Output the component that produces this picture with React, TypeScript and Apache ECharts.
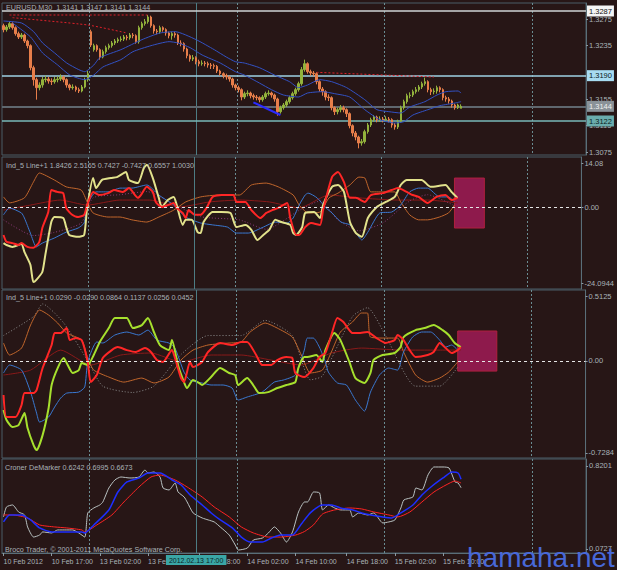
import React, { useEffect, useRef } from "react";
import * as echarts from "echarts";

const W = 617;
const H = 570;
const N_SLOTS = 194;

// [open, close, low, high]
const CANDLES: number[][] = [
  [1.3265,1.3259,1.3255,1.3268],[1.3259,1.3263,1.3256,1.3266],[1.3263,1.3268,1.3260,1.3271],[1.3268,1.3262,1.3259,1.3270],
  [1.3262,1.3253,1.3250,1.3264],[1.3253,1.3248,1.3245,1.3256],[1.3248,1.3251,1.3245,1.3254],[1.3251,1.3242,1.3239,1.3253],
  [1.3242,1.3235,1.3231,1.3244],[1.3235,1.3202,1.3198,1.3237],[1.3202,1.3184,1.3175,1.3205],[1.3184,1.3172,1.3154,1.3187],
  [1.3172,1.3176,1.3168,1.3180],[1.3176,1.3184,1.3172,1.3188],[1.3184,1.3185,1.3180,1.3190],[1.3185,1.3182,1.3178,1.3188],
  [1.3182,1.3181,1.3176,1.3186],[1.3181,1.3184,1.3178,1.3188],[1.3184,1.3185,1.3180,1.3189],[1.3185,1.3188,1.3182,1.3192],
  [1.3188,1.3184,1.3180,1.3190],[1.3184,1.3176,1.3172,1.3186],[1.3176,1.3172,1.3168,1.3178],[1.3172,1.3173,1.3169,1.3177],
  [1.3173,1.3169,1.3166,1.3175],[1.3169,1.3167,1.3164,1.3172],[1.3167,1.3173,1.3165,1.3176],[1.3173,1.3184,1.3171,1.3187],
  [1.3184,1.3193,1.3181,1.3197],[1.3256,1.3236,1.3233,1.3259],[1.3229,1.3235,1.3226,1.3238],[1.3235,1.3229,1.3226,1.3237],
  [1.3229,1.3218,1.3214,1.3231],[1.3218,1.3226,1.3216,1.3229],[1.3226,1.3232,1.3223,1.3235],[1.3232,1.3235,1.3229,1.3238],
  [1.3235,1.3239,1.3232,1.3242],[1.3239,1.3242,1.3236,1.3245],[1.3242,1.3244,1.3239,1.3247],[1.3244,1.3245,1.3241,1.3249],
  [1.3245,1.3248,1.3242,1.3251],[1.3248,1.3247,1.3243,1.3251],[1.3247,1.3251,1.3244,1.3254],[1.3251,1.3250,1.3246,1.3254],
  [1.3250,1.3241,1.3238,1.3252],[1.3241,1.3262,1.3238,1.3265],[1.3262,1.3268,1.3259,1.3271],[1.3268,1.3271,1.3265,1.3275],
  [1.3271,1.3278,1.3268,1.3281],[1.3278,1.3265,1.3262,1.3280],[1.3265,1.3257,1.3253,1.3267],[1.3257,1.3256,1.3252,1.3260],
  [1.3256,1.3262,1.3253,1.3265],[1.3262,1.3259,1.3256,1.3264],[1.3259,1.3254,1.3250,1.3261],[1.3254,1.3250,1.3246,1.3256],
  [1.3250,1.3253,1.3244,1.3256],[1.3253,1.3251,1.3247,1.3256],[1.3251,1.3239,1.3236,1.3253],[1.3239,1.3238,1.3234,1.3243],
  [1.3238,1.3230,1.3226,1.3240],[1.3230,1.3220,1.3216,1.3232],[1.3220,1.3215,1.3211,1.3222],[1.3215,1.3217,1.3212,1.3221],
  [1.3217,1.3211,1.3207,1.3219],[1.3211,1.3208,1.3204,1.3214],[1.3208,1.3209,1.3205,1.3213],[1.3209,1.3208,1.3204,1.3212],
  [1.3208,1.3206,1.3202,1.3211],[1.3206,1.3205,1.3200,1.3209],[1.3205,1.3204,1.3200,1.3208],[1.3204,1.3197,1.3194,1.3206],
  [1.3197,1.3193,1.3190,1.3199],[1.3193,1.3190,1.3186,1.3195],[1.3190,1.3188,1.3184,1.3193],[1.3188,1.3185,1.3181,1.3190],
  [1.3185,1.3176,1.3172,1.3187],[1.3176,1.3172,1.3168,1.3178],[1.3172,1.3169,1.3165,1.3175],[1.3169,1.3158,1.3153,1.3171],
  [1.3158,1.3163,1.3155,1.3166],[1.3163,1.3164,1.3159,1.3168],[1.3164,1.3160,1.3156,1.3166],[1.3160,1.3158,1.3154,1.3163],
  [1.3158,1.3157,1.3153,1.3161],[1.3157,1.3154,1.3150,1.3159],[1.3154,1.3158,1.3151,1.3161],[1.3158,1.3163,1.3155,1.3166],
  [1.3163,1.3164,1.3160,1.3168],[1.3164,1.3161,1.3157,1.3166],[1.3161,1.3155,1.3151,1.3163],[1.3155,1.3136,1.3130,1.3157],
  [1.3136,1.3142,1.3133,1.3145],[1.3142,1.3146,1.3139,1.3149],[1.3146,1.3151,1.3143,1.3154],[1.3151,1.3157,1.3148,1.3160],
  [1.3157,1.3163,1.3154,1.3166],[1.3163,1.3169,1.3160,1.3172],[1.3169,1.3178,1.3166,1.3181],[1.3178,1.3199,1.3175,1.3203],
  [1.3199,1.3208,1.3196,1.3214],[1.3208,1.3196,1.3193,1.3210],[1.3196,1.3194,1.3190,1.3199],[1.3194,1.3193,1.3189,1.3197],
  [1.3193,1.3181,1.3177,1.3195],[1.3181,1.3170,1.3166,1.3183],[1.3170,1.3166,1.3160,1.3173],[1.3166,1.3158,1.3153,1.3168],
  [1.3158,1.3157,1.3152,1.3162],[1.3157,1.3142,1.3138,1.3159],[1.3142,1.3136,1.3131,1.3144],[1.3136,1.3139,1.3132,1.3142],
  [1.3139,1.3142,1.3135,1.3146],[1.3142,1.3139,1.3135,1.3145],[1.3139,1.3133,1.3128,1.3141],[1.3133,1.3115,1.3111,1.3135],
  [1.3115,1.3104,1.3099,1.3117],[1.3104,1.3098,1.3093,1.3107],[1.3098,1.3089,1.3081,1.3100],[1.3089,1.3091,1.3085,1.3095],
  [1.3091,1.3106,1.3088,1.3109],[1.3106,1.3116,1.3103,1.3119],[1.3116,1.3124,1.3113,1.3127],[1.3124,1.3128,1.3121,1.3131],
  [1.3128,1.3124,1.3120,1.3130],[1.3124,1.3125,1.3121,1.3129],[1.3125,1.3124,1.3120,1.3128],[1.3124,1.3125,1.3121,1.3129],
  [1.3125,1.3124,1.3120,1.3128],[1.3124,1.3116,1.3112,1.3126],[1.3116,1.3113,1.3109,1.3119],[1.3113,1.3121,1.3110,1.3124],
  [1.3121,1.3142,1.3119,1.3145],[1.3142,1.3151,1.3139,1.3154],[1.3151,1.3160,1.3148,1.3163],[1.3160,1.3161,1.3156,1.3165],
  [1.3161,1.3166,1.3158,1.3169],[1.3166,1.3169,1.3163,1.3173],[1.3169,1.3173,1.3166,1.3176],[1.3173,1.3178,1.3170,1.3181],
  [1.3178,1.3181,1.3175,1.3187],[1.3181,1.3169,1.3165,1.3183],[1.3169,1.3166,1.3161,1.3172],[1.3166,1.3167,1.3162,1.3171],
  [1.3167,1.3172,1.3163,1.3175],[1.3172,1.3169,1.3165,1.3174],[1.3169,1.3157,1.3153,1.3171],[1.3157,1.3155,1.3151,1.3160],
  [1.3155,1.3152,1.3148,1.3158],[1.3152,1.3146,1.3142,1.3154],[1.3146,1.3142,1.3139,1.3148],[1.3142,1.3146,1.3140,1.3148],
  [1.3141,1.3144,1.3141,1.3147],
];

// moving averages on the price pane: [bar index, price]
const MA_FAST = [[0,1.3272],[6,1.3269],[10,1.3256],[13,1.3239],[17,1.3224],[21,1.3209],[25,1.3199],[27,1.3196],[30,1.3206],[32,1.3217],[39,1.3229],[46,1.3244],[52,1.3254],[57,1.3256],[64,1.3244],[70,1.3229],[74,1.3218],[77,1.3211],[80,1.3209],[85,1.3202],[90,1.3191],[95,1.3181],[98,1.3172],[101,1.3176],[105,1.3184],[109,1.3181],[114,1.3172],[120,1.3154],[124,1.3139],[128,1.3136],[132,1.3134],[135,1.3143],[140,1.3151],[144,1.3161],[147,1.3166],[151,1.3167],[152,1.3164]];
const MA_SLOW = [[3,1.3269],[9,1.3248],[13,1.3224],[18,1.3206],[22,1.3191],[27,1.3184],[30,1.3191],[33,1.3203],[39,1.3214],[43,1.3226],[49,1.3235],[55,1.3241],[58,1.3239],[62,1.3232],[66,1.3221],[72,1.3209],[77,1.3196],[80,1.3191],[85,1.3179],[89,1.3169],[93,1.3161],[98,1.3158],[101,1.3164],[106,1.3166],[110,1.3163],[115,1.3158],[120,1.3139],[125,1.3124],[130,1.3119],[133,1.3121],[136,1.3131],[141,1.3139],[145,1.3145],[150,1.3149],[152,1.3151]];

// trend lines
const TL_RED_TOP = [[2,1.3281],[48,1.3281]];
const TL_RED_DIAG = [[3,1.3277],[28,1.3266],[41,1.3254]];
const TL_RED_RIGHT = [[104,1.3195],[143,1.3188]];
const TL_BLUE = [[83,1.3150],[92,1.3131]];

// horizontal price levels
const PRICE_LEVELS = [1.3287, 1.3190, 1.3144, 1.3122];
const PRICE_TICKS = [1.3275, 1.3235, 1.3155, 1.3115, 1.3075];

// Ind_5 (upper)
const P2_YELLOW = [[0,-11.4],[1,-12.0],[3,-12.6],[6,-11.7],[7,-14.2],[9,-18.3],[10,-23.8],[11,-23.1],[13,-20.6],[14,-15.2],[16,-4.7],[17,-3.1],[20,-3.4],[21,-6.3],[22,-8.8],[25,-9.4],[27,-8.8],[28,-0.2],[30,9.3],[31,6.1],[33,8.7],[36,9.3],[38,9.6],[41,11.2],[42,8.7],[45,7.7],[47,12.5],[48,13.5],[50,9.3],[52,3.0],[53,0.1],[55,2.3],[57,3.3],[58,0.7],[60,-5.6],[61,-4.0],[63,-4.0],[65,-7.9],[66,-8.2],[67,-4.7],[70,-1.5],[73,-1.5],[76,-1.8],[78,-6.3],[81,-5.6],[83,-7.2],[85,-10.4],[87,-8.8],[89,-7.2],[91,-4.0],[93,-4.7],[96,-5.6],[97,-8.2],[98,-8.8],[100,-6.3],[101,-1.8],[104,-1.5],[106,-3.4],[107,0.7],[110,6.5],[112,7.1],[114,4.9],[116,-4.7],[118,-8.2],[120,-9.4],[122,-3.4],[125,0.1],[128,1.7],[131,3.3],[133,7.1],[135,8.7],[140,8.7],[143,6.5],[148,7.1],[150,4.9],[152,3.0]];
const P2_RED = [[0,-8.8],[1,-11.0],[3,-11.4],[5,-12.0],[6,-11.4],[8,-12.6],[10,-12.9],[12,-11.0],[13,-6.6],[15,-1.5],[16,5.5],[18,4.9],[20,4.5],[21,-0.2],[23,-2.4],[25,-3.1],[27,-2.4],[28,0.7],[30,4.9],[32,3.9],[35,4.5],[37,5.5],[40,4.9],[42,6.1],[45,3.0],[46,3.9],[48,6.5],[50,4.9],[51,1.7],[53,0.1],[55,0.7],[57,1.4],[58,-0.2],[60,-1.8],[61,-3.4],[62,-0.9],[64,-2.4],[66,-2.4],[68,-0.2],[70,3.3],[73,3.9],[77,3.9],[78,1.7],[81,1.7],[83,-0.9],[86,-3.4],[88,-1.8],[90,-0.9],[92,-0.2],[95,1.4],[96,-3.4],[98,-8.8],[99,-8.8],[101,-6.3],[103,-5.0],[106,-5.6],[107,-0.9],[110,9.6],[112,11.2],[114,8.0],[116,3.0],[118,3.0],[121,1.7],[123,3.9],[127,4.5],[130,5.5],[132,6.1],[135,4.9],[137,3.9],[139,3.3],[142,1.4],[145,3.3],[148,3.9],[150,2.3],[152,3.0]];
const P2_BLUE = [[0,-2.4],[2,-0.2],[6,-1.8],[7,-3.4],[9,-8.2],[11,-12.6],[13,-11.4],[17,-9.8],[21,-7.9],[25,-6.6],[27,-5.0],[28,0.7],[31,4.9],[35,4.9],[39,6.1],[43,6.1],[48,7.1],[52,3.9],[57,0.7],[61,-3.1],[66,-5.0],[70,-5.6],[75,-6.3],[78,-8.2],[82,-8.2],[87,-6.3],[91,-4.7],[95,-5.0],[97,-3.4],[99,0.7],[101,3.9],[102,4.5],[105,3.0],[108,-0.2],[110,-1.8],[113,-4.7],[116,-5.6],[118,-8.2],[120,-10.4],[122,-7.9],[126,-1.8],[130,-1.5],[133,0.7],[136,4.9],[139,6.1],[142,6.1],[146,3.3],[149,3.3],[151,1.7]];
const P2_ORANGE = [[0,3.3],[2,1.4],[7,3.0],[10,8.0],[12,10.9],[17,8.7],[21,6.5],[26,5.5],[28,1.7],[30,-1.8],[35,-3.1],[39,-3.1],[43,-4.0],[48,-4.7],[52,-3.1],[57,-0.9],[61,1.7],[66,3.3],[72,3.9],[79,3.9],[83,7.1],[88,7.7],[92,6.5],[97,3.9],[99,0.7],[102,-1.8],[106,-1.5],[109,3.0],[112,4.5],[116,7.1],[119,9.6],[121,9.3],[123,4.9],[127,4.9],[131,4.9],[133,1.7],[136,-2.4],[139,-4.0],[142,-4.0],[146,-3.1],[149,-1.8],[151,0.7]];
const P2_DARKRED = [[0,-0.9],[9,0.7],[19,2.3],[28,0.7],[39,2.3],[49,2.3],[59,0.1],[69,1.7],[79,2.3],[89,1.7],[99,-0.2],[109,3.9],[119,3.0],[132,2.3],[142,2.3],[152,1.4]];
const P2_DOTTED = [[0,-4.0],[10,-9.0],[17,-8.0],[26,-5.0],[30,3.0],[39,4.0],[48,5.0],[57,1.0],[66,-3.0],[79,-4.0],[88,-7.0],[99,-1.0],[106,2.0],[112,-4.0],[119,-7.5],[127,-5.0],[136,2.0],[142,4.0],[151,0.5]];
const P2_BOX = [151, 161, 9.3, -6.6];

// Ind_5 (lower)
const P3_GREEN = [[0,-0.389],[1,-0.468],[3,-0.523],[5,-0.508],[7,-0.413],[8,-0.531],[10,-0.666],[11,-0.705],[13,-0.587],[15,-0.373],[16,-0.191],[18,-0.057],[20,0.022],[21,-0.017],[23,-0.096],[25,-0.073],[26,-0.017],[28,-0.033],[30,0.046],[32,0.149],[35,0.259],[37,0.338],[41,0.338],[43,0.259],[46,0.283],[48,0.338],[50,0.228],[52,0.125],[55,0.085],[56,0.164],[58,-0.033],[60,-0.168],[61,-0.215],[63,-0.152],[65,-0.175],[66,-0.191],[69,-0.128],[72,-0.057],[75,-0.096],[77,-0.112],[78,-0.191],[81,-0.136],[83,-0.191],[85,-0.255],[88,-0.247],[91,-0.215],[94,-0.191],[97,-0.168],[98,-0.057],[100,0.030],[101,0.030],[104,0.046],[106,-0.009],[107,0.085],[110,0.220],[112,0.164],[115,-0.009],[117,-0.136],[120,-0.175],[122,-0.096],[123,0.006],[126,0.046],[130,0.062],[132,0.109],[133,0.188],[137,0.243],[140,0.259],[143,0.283],[146,0.243],[148,0.204],[150,0.141],[152,0.109]];
const P3_RED = [[0,-0.270],[1,-0.444],[4,-0.444],[6,-0.349],[7,-0.255],[10,-0.255],[11,-0.231],[13,-0.057],[16,0.125],[17,0.220],[19,0.220],[21,0.259],[22,0.164],[24,0.180],[26,0.164],[28,-0.009],[29,-0.168],[31,-0.112],[33,0.022],[36,0.085],[38,0.109],[41,0.085],[44,0.070],[47,0.101],[49,0.070],[51,0.006],[53,-0.009],[56,0.085],[57,0.022],[59,-0.136],[60,-0.168],[62,-0.009],[63,-0.049],[66,-0.009],[68,0.070],[72,0.141],[76,0.125],[79,0.149],[81,0.149],[84,0.046],[86,-0.033],[89,-0.033],[91,0.006],[94,0.030],[96,0.022],[97,-0.096],[100,-0.128],[103,-0.057],[105,0.030],[107,0.062],[109,0.204],[111,0.338],[113,0.307],[116,0.220],[118,0.220],[121,0.228],[124,0.180],[127,0.141],[130,0.164],[131,0.204],[133,0.164],[135,0.085],[137,0.030],[141,0.046],[143,0.070],[145,0.141],[147,0.101],[149,0.062],[151,0.085],[152,0.109]];
const P3_BLUE = [[0,-0.096],[2,-0.033],[6,-0.073],[9,-0.247],[11,-0.413],[12,-0.484],[15,-0.444],[17,-0.365],[19,-0.294],[21,-0.255],[25,-0.247],[27,-0.207],[28,-0.009],[31,0.149],[33,0.141],[37,0.204],[41,0.228],[45,0.204],[48,0.243],[51,0.164],[55,0.141],[57,0.101],[60,-0.089],[62,-0.152],[66,-0.175],[69,-0.191],[73,-0.191],[76,-0.215],[78,-0.310],[81,-0.286],[86,-0.247],[90,-0.168],[93,-0.152],[97,-0.112],[100,0.085],[101,0.180],[103,0.180],[105,0.109],[107,-0.009],[108,-0.089],[111,-0.175],[114,-0.191],[117,-0.310],[120,-0.397],[122,-0.247],[125,-0.112],[128,-0.057],[131,-0.073],[133,0.070],[136,0.188],[139,0.228],[142,0.228],[145,0.164],[147,0.109],[149,0.125],[151,0.085]];
const P3_ORANGE = [[0,0.141],[2,0.046],[6,0.101],[9,0.283],[12,0.402],[15,0.362],[18,0.299],[21,0.220],[26,0.164],[28,0.022],[30,-0.073],[35,-0.128],[40,-0.168],[46,-0.136],[50,-0.175],[55,-0.128],[59,0.006],[63,0.085],[68,0.125],[75,0.141],[79,0.149],[82,0.228],[87,0.299],[91,0.259],[96,0.188],[99,0.046],[102,-0.096],[106,-0.073],[109,0.070],[112,0.228],[116,0.307],[119,0.378],[121,0.378],[122,0.188],[127,0.180],[131,0.180],[133,0.070],[137,-0.112],[141,-0.168],[145,-0.136],[148,-0.089],[151,-0.009]];
const P3_DARKRED = [[0,-0.112],[9,-0.073],[19,0.085],[29,-0.033],[39,0.046],[49,0.062],[59,-0.009],[69,0.046],[79,0.046],[89,0.006],[99,-0.033],[109,0.062],[119,0.101],[132,0.085],[142,0.085],[152,0.085]];
const P3_DOTTED = [[0,0.20],[10,0.35],[13,0.45],[20,0.30],[28,0.00],[33,-0.20],[43,-0.25],[50,-0.20],[59,0.05],[68,0.20],[79,0.20],[87,0.32],[96,0.20],[102,-0.15],[106,-0.12],[116,0.35],[121,0.42],[127,0.20],[137,-0.20],[145,-0.20],[151,-0.05]];
const P3_BOX = [151, 164, 0.236, -0.081];

// Croner DeMarker
const P4_GREY = [[0,0.361],[1,0.451],[3,0.469],[5,0.406],[7,0.379],[8,0.271],[10,0.180],[12,0.198],[13,0.226],[16,0.217],[18,0.244],[21,0.244],[23,0.244],[25,0.217],[27,0.180],[28,0.397],[30,0.442],[32,0.469],[33,0.496],[35,0.622],[37,0.694],[39,0.721],[42,0.712],[45,0.721],[47,0.784],[48,0.757],[50,0.766],[52,0.721],[53,0.622],[55,0.604],[57,0.667],[58,0.586],[60,0.541],[61,0.496],[63,0.397],[66,0.352],[68,0.334],[70,0.316],[72,0.271],[75,0.198],[77,0.108],[78,0.063],[81,0.081],[83,0.153],[86,0.171],[88,0.217],[90,0.271],[92,0.217],[94,0.135],[96,0.226],[98,0.406],[100,0.496],[101,0.496],[103,0.586],[105,0.577],[106,0.424],[108,0.469],[110,0.442],[112,0.424],[115,0.424],[116,0.361],[118,0.397],[121,0.379],[123,0.397],[126,0.307],[128,0.316],[130,0.334],[132,0.442],[133,0.514],[136,0.541],[137,0.622],[139,0.604],[141,0.739],[143,0.811],[146,0.811],[148,0.802],[150,0.676],[151,0.667],[152,0.624]];
const P4_BLUE = [[0,0.316],[2,0.379],[6,0.379],[9,0.334],[12,0.262],[16,0.226],[19,0.226],[22,0.226],[26,0.226],[27,0.217],[30,0.289],[35,0.424],[38,0.586],[41,0.676],[45,0.712],[48,0.757],[52,0.757],[56,0.694],[59,0.649],[62,0.559],[66,0.469],[69,0.397],[72,0.334],[76,0.262],[79,0.180],[82,0.135],[86,0.135],[89,0.171],[92,0.198],[96,0.198],[99,0.300],[102,0.400],[106,0.469],[109,0.469],[112,0.442],[116,0.424],[119,0.397],[122,0.379],[126,0.361],[129,0.352],[132,0.397],[136,0.469],[139,0.559],[142,0.631],[146,0.712],[149,0.766],[151,0.757],[152,0.700]];
const P4_RED = [[0,0.379],[3,0.379],[8,0.352],[12,0.289],[17,0.271],[21,0.262],[26,0.244],[27,0.226],[31,0.289],[36,0.379],[40,0.496],[45,0.631],[49,0.721],[52,0.739],[57,0.694],[61,0.631],[66,0.541],[70,0.451],[75,0.361],[79,0.271],[83,0.217],[88,0.180],[92,0.180],[97,0.198],[100,0.230],[103,0.290],[106,0.388],[110,0.424],[115,0.442],[119,0.433],[123,0.406],[128,0.379],[131,0.361],[135,0.406],[139,0.496],[143,0.586],[147,0.649],[150,0.685],[152,0.667]];

// time axis
const TICK_IDX = [0, 16, 32, 48, 65, 81, 97, 114, 130, 146];
const TICK_TXT = ["10 Feb 2012", "10 Feb 17:00", "13 Feb 02:00", "13 Feb 10:00", "13 Feb 18:00", "14 Feb 02:00", "14 Feb 10:00", "14 Feb 18:00", "15 Feb 02:00", "15 Feb 10:00"];
const VGRID_IDX = [29, 78, 127, 176];
const CROSS_IDX = 64;

const TITLES = [
  "EURUSD,M30  1.3141 1.3147 1.3141 1.3144",
  "Ind_5 Line+1 1.8426 2.5165 0.7427 -0.7427 0.6557 1.0030",
  "Ind_5 Line+1 0.0290 -0.0290 0.0864 0.1137 0.0256 0.0452",
  "Croner DeMarker 0.6242 0.6995 0.6673",
];

function pad(n: number) { return n < 10 ? "0" + n : String(n); }
function buildCats(): string[] {
  const out: string[] = [];
  let t = Date.UTC(2012, 1, 10, 9, 0);
  while (out.length < N_SLOTS) {
    const d = new Date(t);
    const wd = d.getUTCDay();
    if (wd !== 0 && wd !== 6) {
      out.push(`${d.getUTCFullYear()}.${pad(d.getUTCMonth() + 1)}.${pad(d.getUTCDate())} ${pad(d.getUTCHours())}:${pad(d.getUTCMinutes())}`);
    }
    t += 30 * 60000;
  }
  return out;
}

const FONT = "Liberation Sans";
const TXT = "#a9b3b8";
const FRAME = "#4a5c66";
const BG = "#271616";

function buildOption() {
  const CATS = buildCats();
  const GRIDS = [
    { top: 3, height: 152, min: 1.3071, max: 1.3299, ticks: PRICE_TICKS, fmt: (v: number) => v.toFixed(4) },
    { top: 157, height: 132, min: -26.0, max: 16.0, ticks: [14.08, 0, -24.0944], fmt: (v: number) => (v === 0 ? "0.00" : String(v)) },
    { top: 290, height: 168, min: -0.768, max: 0.56, ticks: [0.5125, 0, -0.7284], fmt: (v: number) => (v === 0 ? "0.00" : String(v)) },
    { top: 459, height: 94, min: 0.0363, max: 0.883, ticks: [0.8201, 0.0727], fmt: (v: number) => String(v) },
  ];

  const crossLine = (withLabel: boolean) => ({
    xAxis: CATS[CROSS_IDX],
    lineStyle: { color: "#4d7c84", width: 1, type: "solid" },
    label: withLabel
      ? { show: true, position: "start", distance: 2, formatter: CATS[CROSS_IDX], backgroundColor: "#3aa6a6", color: "#0c2424", padding: [2, 3, 1, 3], fontSize: 7, fontFamily: FONT }
      : { show: false },
  });
  const zeroLine = { yAxis: 0, lineStyle: { color: "#e6e6e6", width: 1, type: [3, 3] }, label: { show: false } };

  const line = (data: number[][], g: number, color: string, width: number, type: any = "solid", z = 2, extra: any = {}) => ({
    type: "line", xAxisIndex: g, yAxisIndex: g, data, symbol: "none", smooth: 0.2, silent: true, z,
    lineStyle: { color, width, type }, ...extra,
  });

  const levelStyle = [
    { c: "#d0d4d6", w: 1.5, bg: "#f4f4f4", fg: "#101010" },
    { c: "#9fd2e4", w: 1.5, bg: "#a8dcf2", fg: "#0a1a22" },
    { c: "#5f676e", w: 2, bg: "#8a9298", fg: "#f0f0f0" },
    { c: "#78b8b8", w: 1.5, bg: "#6aacac", fg: "#0a1e1e" },
  ];

  const boxArea = (b: number[]) => ({
    silent: true,
    itemStyle: { color: "#8e1a4c", borderColor: "#b0203e", borderWidth: 1 },
    data: [[{ coord: [CATS[b[0]], b[2]] }, { coord: [CATS[b[1]], b[3]] }]],
  });

  const series: any[] = [
    {
      type: "candlestick", xAxisIndex: 0, yAxisIndex: 0, data: CANDLES, barWidth: 2, silent: true, z: 3,
      itemStyle: { color: "#93b23c", color0: "#e77e4a", borderColor: "#93b23c", borderColor0: "#e77e4a", borderWidth: 1 },
      markLine: {
        silent: true, symbol: ["none", "none"], z: 1, precision: 6,
        data: [
          crossLine(false),
          ...PRICE_LEVELS.map((v, k) => ({
            yAxis: v,
            lineStyle: { color: levelStyle[k].c, width: levelStyle[k].w, type: "solid" },
            label: { show: true, position: "end", distance: 1, formatter: v.toFixed(4), backgroundColor: levelStyle[k].bg, color: levelStyle[k].fg, padding: [2, 2, 1, 2], fontSize: 7.5, fontFamily: FONT },
          })),
        ],
      },
    },
    line(MA_FAST, 0, "#3352c4", 1, "solid", 4),
    line(MA_SLOW, 0, "#3352c4", 1, "solid", 4),
    line(TL_RED_TOP, 0, "#e0202a", 1, [2, 2], 4),
    line(TL_RED_DIAG, 0, "#e0202a", 1, [2, 2], 4),
    line(TL_RED_RIGHT, 0, "#e0202a", 1, [2, 2], 4),
    line(TL_BLUE, 0, "#2a2aff", 2, "solid", 4),

    line(P2_DARKRED, 1, "#8a1a1a", 1, "solid", 2, {
      markLine: { silent: true, symbol: ["none", "none"], precision: 6, data: [crossLine(false), zeroLine] },
    }),
    line(P2_DOTTED, 1, "#8a3a7a", 1, [1, 2], 2),
    line(P2_ORANGE, 1, "#c0662c", 1, "solid", 2),
    line(P2_BLUE, 1, "#3a78d0", 1, "solid", 3),
    line(P2_YELLOW, 1, "#e2e28c", 2, "solid", 3),
    line(P2_RED, 1, "#ff2626", 2, "solid", 4, { markArea: boxArea(P2_BOX) }),

    line(P3_DARKRED, 2, "#8a1a1a", 1, "solid", 2, {
      markLine: { silent: true, symbol: ["none", "none"], precision: 6, data: [crossLine(false), zeroLine] },
    }),
    line(P3_DOTTED, 2, "#8a8a8a", 1, [1, 2], 2),
    line(P3_ORANGE, 2, "#c0662c", 1, "solid", 2),
    line(P3_BLUE, 2, "#3a78d0", 1, "solid", 3),
    line(P3_GREEN, 2, "#a6e02e", 2, "solid", 3),
    line(P3_RED, 2, "#ff2626", 2, "solid", 4, { markArea: boxArea(P3_BOX) }),

    line(P4_GREY, 3, "#b9c2c2", 1, "solid", 2, {
      markLine: { silent: true, symbol: ["none", "none"], precision: 6, z: 10, data: [crossLine(true)] },
    }),
    line(P4_RED, 3, "#ff2424", 1, "solid", 3),
    line(P4_BLUE, 3, "#1e2eff", 1.5, "solid", 4),
  ];

  const tickShow = (i: number) => TICK_IDX.indexOf(i) >= 0;

  return {
    animation: false,
    backgroundColor: BG,
    textStyle: { fontFamily: FONT },
    grid: GRIDS.map((g) => ({ left: 2, right: 31, top: g.top, height: g.height, show: true, borderColor: FRAME, borderWidth: 1, backgroundColor: "transparent" })),
    xAxis: GRIDS.map((_, gi) => ({
      type: "category", gridIndex: gi, data: CATS, boundaryGap: true,
      axisLine: { show: gi === 3, lineStyle: { color: "#5a6e78" } },
      axisTick: { show: gi === 3, interval: (i: number) => tickShow(i), alignWithLabel: true, length: 3, lineStyle: { color: "#8a98a0" } },
      axisLabel: {
        show: gi === 3, interval: (i: number) => tickShow(i), align: "left", margin: 5,
        color: TXT, fontSize: 7, fontFamily: FONT,
        formatter: (_v: string, i: number) => { const k = TICK_IDX.indexOf(i); return k >= 0 ? TICK_TXT[k] : ""; },
      },
      splitLine: { show: true, interval: (i: number) => VGRID_IDX.indexOf(i) >= 0, lineStyle: { color: "#6a8c92", width: 1, type: [2, 2] } },
    })),
    yAxis: GRIDS.map((g, gi) => ({
      type: "value", gridIndex: gi, position: "right", min: g.min, max: g.max, scale: true,
      axisLine: { show: true, lineStyle: { color: "#5a6e78" } },
      axisTick: { show: true, customValues: g.ticks, length: 2, lineStyle: { color: "#8a98a0" } },
      axisLabel: { customValues: g.ticks, color: TXT, fontSize: 7.5, fontFamily: FONT, margin: 3, formatter: g.fmt },
      splitLine: { show: false },
    })),
    series,
    graphic: [
      { type: "text", x: 6, y: 4, z: 50, style: { text: TITLES[0], fill: TXT, fontSize: 7.2, fontFamily: FONT, verticalAlign: "top" } },
      { type: "text", x: 6, y: 162, z: 50, style: { text: TITLES[1], fill: TXT, fontSize: 7.2, fontFamily: FONT, verticalAlign: "top" } },
      { type: "text", x: 6, y: 294, z: 50, style: { text: TITLES[2], fill: TXT, fontSize: 7.2, fontFamily: FONT, verticalAlign: "top" } },
      { type: "text", x: 5, y: 464, z: 50, style: { text: TITLES[3], fill: TXT, fontSize: 7.2, fontFamily: FONT, verticalAlign: "top" } },
      { type: "text", x: 5, y: 546, z: 50, style: { text: "Broco Trader, \u00a9 2001-2011 MetaQuotes Software Corp.", fill: TXT, fontSize: 7.2, fontFamily: FONT, verticalAlign: "top" } },
      { type: "text", x: 467, y: 543, z: 60, style: { text: "hamaha.net", fill: "#4868d8", fontSize: 28, fontFamily: FONT, verticalAlign: "top" } },
    ],
  };
}

export default function App() {
  const ref = useRef<HTMLDivElement>(null);
  useEffect(() => {
    document.body.style.margin = "0";
    document.body.style.background = BG;
    const chart = echarts.init(ref.current!, null, { renderer: "svg" });
    chart.setOption(buildOption() as any);
    return () => chart.dispose();
  }, []);
  return <div ref={ref} style={{ position: "fixed", left: 0, top: 0, width: W, height: H }} />;
}
